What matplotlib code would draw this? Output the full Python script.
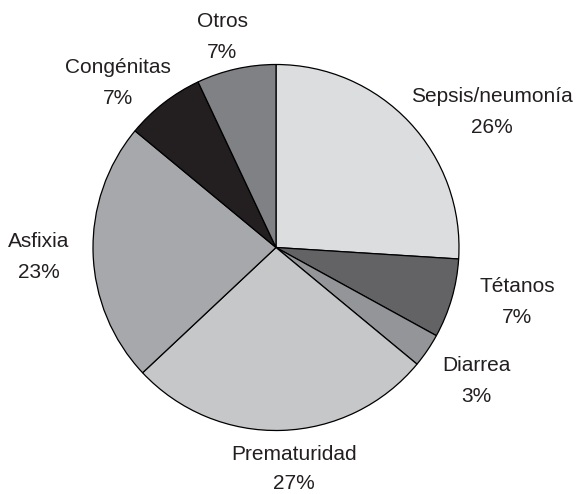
import matplotlib.pyplot as plt

# causas de muerte neonatal (%)
causas = ["Sepsis/neumonía", "Tétanos", "Diarrea", "Prematuridad",
          "Asfixia", "Congénitas", "Otros"]
porcentajes = [26, 7, 3, 27, 23, 7, 7]
colores = ["#dcdddf", "#636366", "#949599", "#c6c7c9",
           "#a7a8ab", "#231f20", "#808184"]

# posicion (x centro, linea base de la primera linea) en pixeles
pos_etiquetas = [(492, 102), (517, 292), (476, 371), (294, 460),
                 (39, 247), (118, 73), (222, 27)]
salto = [31, 31, 31, 29, 31, 31, 31]

W, H = 578, 494

fig = plt.figure(figsize=(W / 100, H / 100), dpi=100)
ax = fig.add_axes([0, 0, 1, 1])

ax.pie(porcentajes, colors=colores, startangle=90, counterclock=False,
       center=(276, H - 247.5), radius=183,
       wedgeprops=dict(edgecolor="black", linewidth=0.9))

ax.set_xlim(0, W)
ax.set_ylim(0, H)
ax.set_aspect("equal")
ax.axis("off")

for nombre, pct, (x, y), dy in zip(causas, porcentajes, pos_etiquetas, salto):
    ax.text(x, H - y, nombre, ha="center", va="baseline",
            fontsize=15, family="Liberation Sans", color="#231f20")
    ax.text(x, H - y - dy, f"{pct}%", ha="center", va="baseline",
            fontsize=15, family="Liberation Sans", color="#231f20")

fig.savefig("out.png", dpi=100, facecolor="white")
